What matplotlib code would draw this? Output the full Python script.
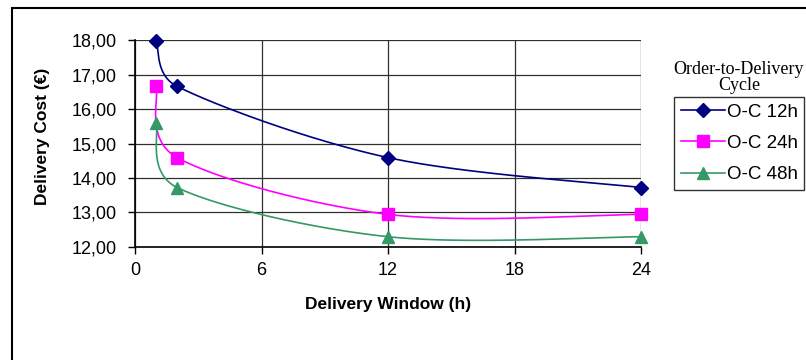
import numpy as np
import matplotlib.pyplot as plt
from matplotlib.lines import Line2D
from matplotlib.patches import Rectangle

# delivery window (h) and delivery cost (EUR) per order-to-delivery cycle
window_h = [1, 2, 12, 24]
cost_oc12 = [17.97, 16.66, 14.59, 13.72]
cost_oc24 = [16.67, 14.59, 12.94, 12.94]
cost_oc48 = [15.59, 13.72, 12.29, 12.29]

series_names = ['O-C 12h', 'O-C 24h', 'O-C 48h']
series_colors = ['#000080', '#FF00FF', '#339966']
series_markers = ['D', 's', '^']
series_msize = [7, 8, 8]

x_ticks = [0, 6, 12, 18, 24]
y_ticks = [12, 13, 14, 15, 16, 17, 18]

# axes box in pixels (806 x 360 canvas)
AX_L, AX_R, AX_T, AX_B = 135, 641, 40.3, 246.7


def smooth(xs, ys, sx, sy, n=80):
    # smoothed line: cubic bezier per segment, tension 1/6, control arm
    # kept within half the segment length (measured in screen space)
    p = np.column_stack([np.asarray(xs) * sx, np.asarray(ys) * sy]).astype(float)
    out = []
    for i in range(len(p) - 1):
        p0 = p[i - 1] if i > 0 else p[i]
        p1, p2 = p[i], p[i + 1]
        p3 = p[i + 2] if i + 2 < len(p) else p[i + 1]
        half = 0.5 * np.hypot(*(p2 - p1))
        a1 = (p2 - p0) / 6
        a2 = (p3 - p1) / 6
        for a in (a1, a2):
            ln = np.hypot(*a)
            if ln > half:
                a *= half / ln
        c1 = p1 + a1
        c2 = p2 - a2
        t = np.linspace(0, 1, n)[:, None]
        seg = ((1 - t) ** 3 * p1 + 3 * (1 - t) ** 2 * t * c1
               + 3 * (1 - t) * t ** 2 * c2 + t ** 3 * p2)
        out.append(seg if i == 0 else seg[1:])
    out = np.vstack(out)
    return out[:, 0] / sx, out[:, 1] / sy


plt.rcParams['font.family'] = ['Liberation Sans', 'DejaVu Sans']

fig = plt.figure(figsize=(8.06, 3.6), dpi=100)
ax = fig.add_axes([AX_L / 806, 1 - AX_B / 360,
                   (AX_R - AX_L) / 806, (AX_B - AX_T) / 360])

xpx = (AX_R - AX_L) / 24
ypx = (AX_B - AX_T) / 6

all_costs = [cost_oc12, cost_oc24, cost_oc48]
handles = []
for ys, name, col, mk, ms in zip(all_costs, series_names, series_colors,
                                 series_markers, series_msize):
    cx, cy = smooth(window_h, ys, xpx, ypx)
    ax.plot(cx, cy, color=col, lw=1.2, zorder=3, clip_on=False)
    ax.plot(window_h, ys, linestyle='none', marker=mk, ms=ms, color=col,
            zorder=4, clip_on=False)
    handles.append(Line2D([], [], color=col, lw=1.2, marker=mk, ms=ms))

ax.set_xlim(0, 24)
ax.set_ylim(12, 18)
ax.set_xticks(x_ticks)
ax.set_yticks(y_ticks)
ax.set_yticklabels([f'{v:.2f}'.replace('.', ',') for v in y_ticks])
ax.tick_params(labelsize=13, length=5, width=1, color='black')
ax.tick_params(axis='y', pad=8)
ax.tick_params(axis='x', pad=6)
ax.grid(True, color='#303030', lw=0.9)
ax.set_axisbelow(True)
for side in ['top', 'right']:
    ax.spines[side].set_visible(False)
for side in ['left', 'bottom']:
    ax.spines[side].set_linewidth(1.2)

ax.set_xlabel('Delivery Window (h)', fontsize=12.5, fontweight='bold')
ax.set_ylabel('Delivery Cost (€)', fontsize=12.5, fontweight='bold')
ax.xaxis.set_label_coords(0.5, (AX_B - 305) / (AX_B - AX_T))
ax.yaxis.set_label_coords((43 - AX_L) / (AX_R - AX_L), (AX_B - 136) / (AX_B - AX_T))
ax.xaxis.label.set_va('center')
ax.yaxis.label.set_va('center')

# legend with its title set above the box
fig.text(739 / 806, 1 - 77.5 / 360, 'Order-to-Delivery\nCycle', ha='center',
         va='center', fontsize=13, family='Liberation Serif', linespacing=1.0)
leg = fig.legend(handles, series_names, loc='upper left',
                 bbox_to_anchor=(674 / 806, 1 - 97 / 360), fontsize=13.5,
                 frameon=True, fancybox=False, edgecolor='black',
                 handlelength=2.35, handletextpad=0.12, borderpad=0.35,
                 labelspacing=0.75, borderaxespad=0)
leg.get_frame().set_linewidth(1.0)

# outer chart border
fig.patches.append(Rectangle((12 / 806, -0.2), 1.2, 1 - 8 / 360 + 0.2,
                             transform=fig.transFigure, fill=False,
                             edgecolor='black', lw=1.5))

fig.savefig('out.png', dpi=100)
